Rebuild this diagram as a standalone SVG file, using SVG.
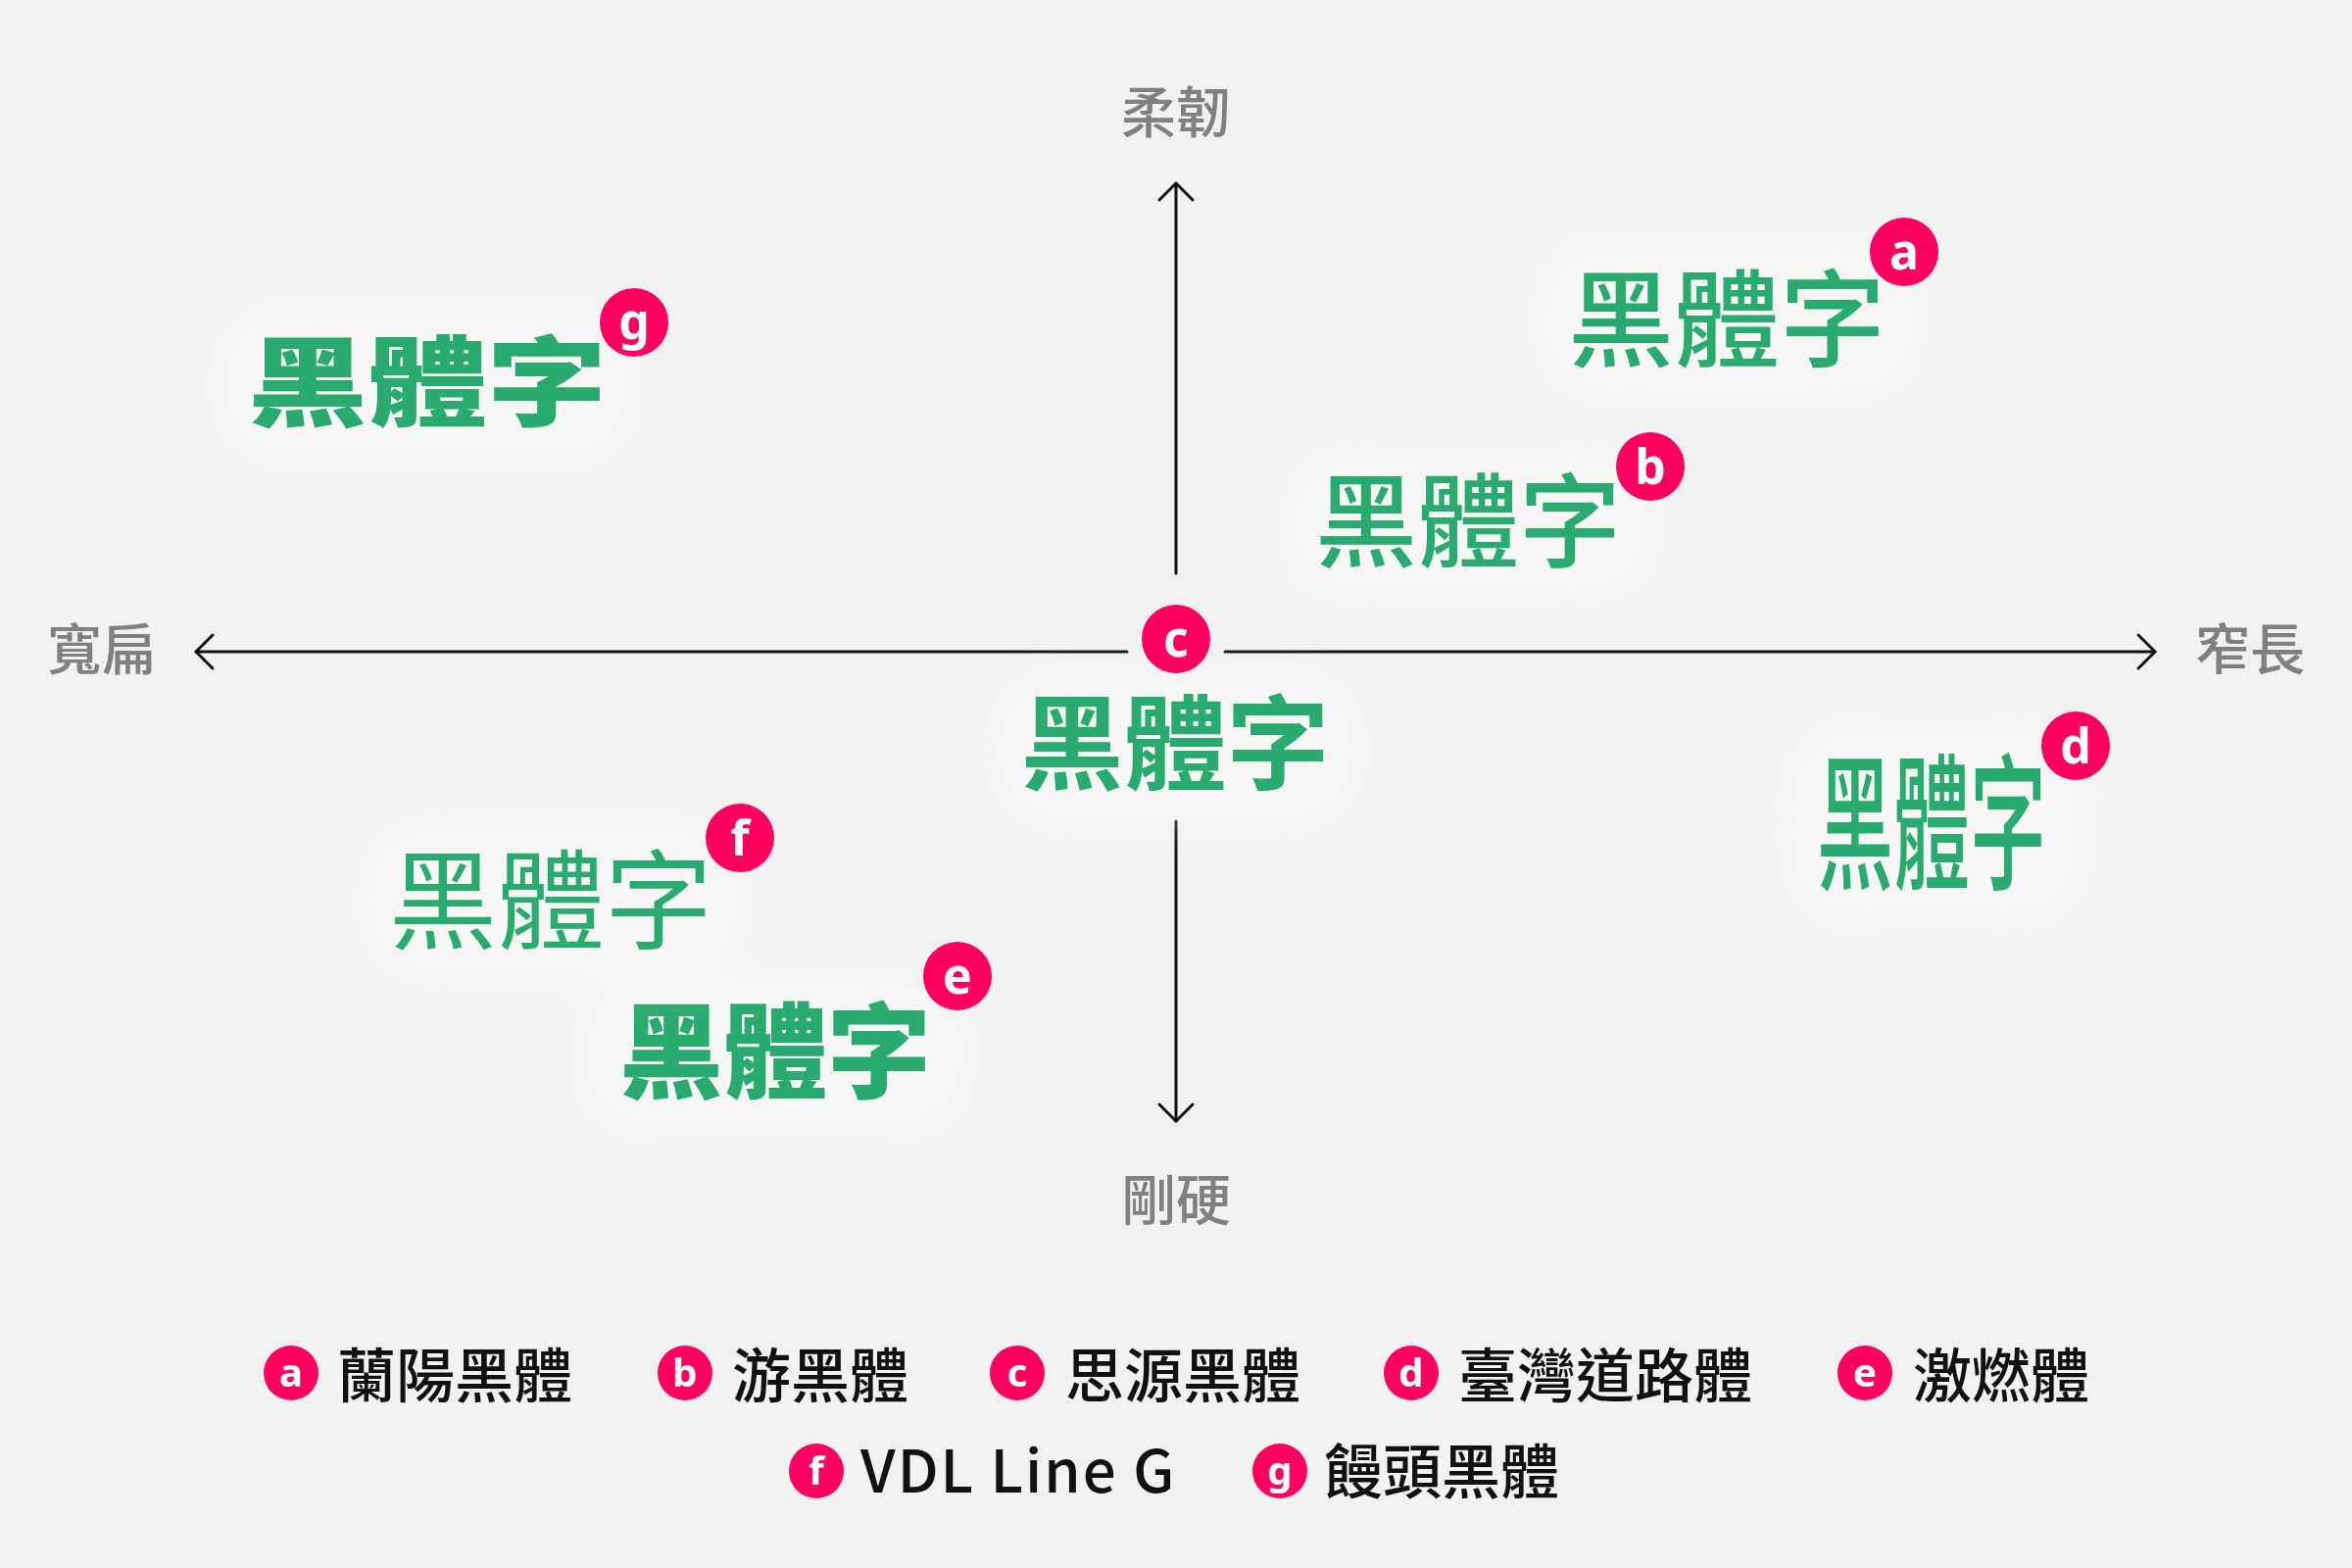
<svg xmlns="http://www.w3.org/2000/svg" width="2400" height="1600" viewBox="0 0 2400 1600">
<defs>
<style>
.axis{stroke:#111;stroke-width:3;fill:none;stroke-linecap:round;stroke-linejoin:round}
.alab{font-family:"Noto Sans CJK TC","Noto Sans CJK SC",sans-serif;font-size:56px;font-weight:500;fill:#808080;text-anchor:middle}
.sample{font-family:"Noto Sans CJK TC","Noto Sans CJK SC",sans-serif;fill:#29ab70;text-anchor:middle}
.badge{fill:#ff0060}
.bl{font-family:"Noto Sans","Liberation Sans",sans-serif;font-weight:700;fill:#ffffff;text-anchor:middle}
.leg{font-family:"Noto Sans CJK TC","Noto Sans CJK SC",sans-serif;font-size:60px;font-weight:500;fill:#111}
.glow{fill:#ffffff;opacity:0.4;filter:url(#blur)}
</style>
<filter id="blur" x="-30%" y="-50%" width="160%" height="200%"><feGaussianBlur stdDeviation="20"/></filter>
<marker id="arr" viewBox="-20 -20 24 40" markerWidth="24" markerHeight="40" refX="0" refY="0" orient="auto" markerUnits="userSpaceOnUse">
<path d="M-17,-17 L0,0 L-17,17" fill="none" stroke="#111" stroke-width="3" stroke-linecap="round" stroke-linejoin="round"/>
</marker>
</defs>
<rect width="2400" height="1600" fill="#f1f1f1"/>

<g id="connectors">
<line class="axis" x1="1150" y1="665" x2="200" y2="665" marker-end="url(#arr)"/>
<line class="axis" x1="1250" y1="665" x2="2199" y2="665" marker-end="url(#arr)"/>
<line class="axis" x1="1200" y1="585" x2="1200" y2="187" marker-end="url(#arr)"/>
<line class="axis" x1="1200" y1="838" x2="1200" y2="1144" marker-end="url(#arr)"/>
</g>

<g id="axis-labels">
<text class="alab" x="1200" y="135">柔韌</text>
<text class="alab" x="1200" y="1245">剛硬</text>
<text class="alab" x="104" y="683">寬扁</text>
<text class="alab" x="2296" y="683">窄長</text>
</g>

<g id="node-a">
<rect class="glow" x="1570" y="245" width="390" height="160" rx="70"/>
<text class="sample" x="1762" y="366" font-size="108" font-weight="500">黑體字</text>
<circle class="badge" cx="1943" cy="257" r="35"/>
<text class="bl" x="1943" y="275" font-size="50">a</text>
</g>

<g id="node-b">
<rect class="glow" x="1310" y="460" width="380" height="150" rx="70"/>
<text class="sample" x="1498" y="571" font-size="104" font-weight="500">黑體字</text>
<circle class="badge" cx="1684" cy="476" r="35"/>
<text class="bl" x="1684" y="494" font-size="50">b</text>
</g>

<g id="node-c">
<rect class="glow" x="1010" y="690" width="380" height="150" rx="70"/>
<circle class="badge" cx="1200" cy="652" r="35"/>
<text class="bl" x="1200" y="670" font-size="50">c</text>
<text class="sample" x="1199" y="797" font-size="105" font-weight="700">黑體字</text>
</g>

<g id="node-d">
<rect class="glow" x="1820" y="740" width="310" height="200" rx="70"/>
<text class="sample" font-size="150" font-weight="500" transform="translate(1971,896) scale(0.52,1)">黑體字</text>
<circle class="badge" cx="2118" cy="761" r="35"/>
<text class="bl" x="2118" y="779" font-size="50">d</text>
</g>

<g id="node-e">
<rect class="glow" x="590" y="995" width="400" height="160" rx="70"/>
<text class="sample" x="791" y="1112" font-size="106" font-weight="900">黑體字</text>
<circle class="badge" cx="977" cy="996" r="35"/>
<text class="bl" x="977" y="1014" font-size="50">e</text>
</g>

<g id="node-f">
<rect class="glow" x="370" y="840" width="390" height="160" rx="70"/>
<text class="sample" x="562" y="960" font-size="110" font-weight="400">黑體字</text>
<circle class="badge" cx="755" cy="855" r="35"/>
<text class="bl" x="755" y="873" font-size="50">f</text>
</g>

<g id="node-g">
<rect class="glow" x="220" y="315" width="430" height="155" rx="70"/>
<text class="sample" font-size="100" font-weight="900" transform="translate(436,427) scale(1.22,1)">黑體字</text>
<circle class="badge" cx="647" cy="329" r="35"/>
<text class="bl" x="647" y="346" font-size="50">g</text>
</g>

<g id="legend">
<circle class="badge" cx="297" cy="1401" r="28"/><text class="bl" x="297" y="1415" font-size="40">a</text>
<text class="leg" x="344" y="1426">蘭陽黑體</text>
<circle class="badge" cx="699" cy="1401" r="28"/><text class="bl" x="699" y="1415" font-size="40">b</text>
<text class="leg" x="747" y="1426">游黑體</text>
<circle class="badge" cx="1038" cy="1401" r="28"/><text class="bl" x="1038" y="1415" font-size="40">c</text>
<text class="leg" x="1087" y="1426">思源黑體</text>
<circle class="badge" cx="1440" cy="1401" r="28"/><text class="bl" x="1440" y="1415" font-size="40">d</text>
<text class="leg" x="1488" y="1426">臺灣道路體</text>
<circle class="badge" cx="1903" cy="1401" r="28"/><text class="bl" x="1903" y="1415" font-size="40">e</text>
<text class="leg" x="1952" y="1426">激燃體</text>
<circle class="badge" cx="833" cy="1501" r="28"/><text class="bl" x="833" y="1515" font-size="40">f</text>
<text class="leg" x="878" y="1523" font-family="'Noto Sans','Liberation Sans',sans-serif" font-weight="400" font-size="62" letter-spacing="2">VDL Line G</text>
<circle class="badge" cx="1306" cy="1501" r="28"/><text class="bl" x="1306" y="1515" font-size="40">g</text>
<text class="leg" x="1351" y="1524">饅頭黑體</text>
</g>
</svg>
